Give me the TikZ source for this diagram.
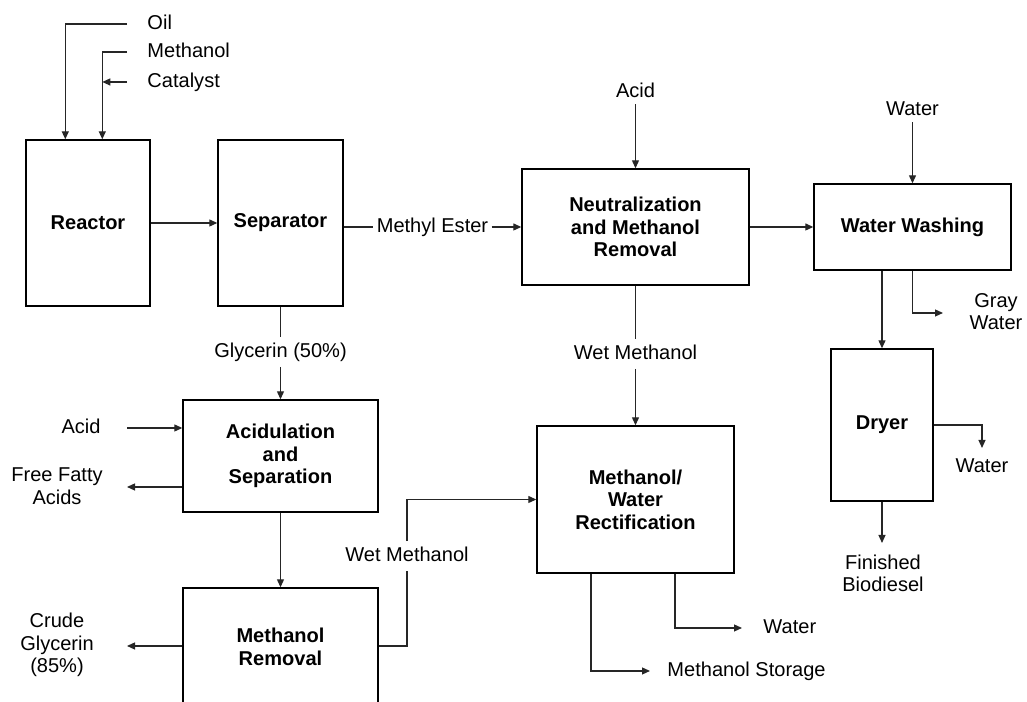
\documentclass[tikz,border=0pt]{standalone}
\usepackage{fontspec}
\setmainfont{Liberation Sans}
\usetikzlibrary{arrows.meta,positioning}
\newcommand{\basefont}{\fontsize{11.4pt}{12.8pt}\selectfont}

\begin{document}
\begin{tikzpicture}[>={Triangle[length=1.6mm,width=1.4mm]},x=1cm,y=1cm,
  font=\basefont,
  unit/.style={draw,line width=0.8pt,align=center,font=\basefont\bfseries,inner sep=2pt},
  flow/.style={->,line width=0.7pt,black!85},
  pipe/.style={line width=0.7pt,black!85},
  lbl/.style={inner sep=1.5pt,text height=0.3cm,text depth=0.08cm},
  inl/.style={lbl,inner xsep=0.06cm,inner ysep=0.1cm},
  txt/.style={align=center}]
\useasboundingbox (0,0) rectangle (20.54,14.04);
\clip (0,0) rectangle (20.54,14.04);
% process units
\node[unit,minimum width=2.48cm,minimum height=3.32cm] (reactor) at (1.76,9.58) {Reactor};
\node[unit,minimum width=2.50cm,minimum height=3.32cm] (sep) at (5.61,9.58) {Separator};
\node[unit,minimum width=4.54cm,minimum height=2.32cm] (neut) at (12.71,9.50) {Neutralization\\and Methanol\\Removal};
\node[unit,minimum width=3.94cm,minimum height=1.72cm] (wash) at (18.25,9.50) {Water Washing};
\node[unit,minimum width=2.04cm,minimum height=3.04cm] (dryer) at (17.64,5.54) {Dryer};
\node[unit,minimum width=3.90cm,minimum height=2.24cm] (acidsep) at (5.61,4.92) {Acidulation\\and\\Separation};
\node[unit,minimum width=3.90cm,minimum height=2.36cm] (mrem) at (5.61,1.10) {Methanol\\Removal};
\node[unit,minimum width=3.94cm,minimum height=2.94cm] (rect) at (12.71,4.05) {Methanol/\\Water\\Rectification};
% feeds to the reactor
\coordinate (oilin) at (2.54,13.56);
\coordinate (methin) at (2.54,13.00);
\coordinate (catin) at (2.54,12.40);
\coordinate (oildrop) at ([xshift=0.80cm]reactor.north west);
\coordinate (methdrop) at ([xshift=1.54cm]reactor.north west);
\node[lbl,anchor=west] (oil) at (2.89,13.56) {Oil};
\node[lbl,anchor=west] (meth) at (2.89,13.00) {Methanol};
\node[lbl,anchor=west] (cat) at (2.89,12.40) {Catalyst};
\draw[flow] (oilin) -| (oildrop);
\draw[flow] (methin) -| (methdrop);
\draw[flow] (catin) -- (catin -| methdrop);
% biodiesel line
\draw[flow] (reactor) -- (sep);
\node[inl] (ester) at (8.65,9.50) {Methyl Ester};
\draw[pipe] (ester.west -| sep.east) -- (ester.west);
\draw[flow] (ester) -- (neut);
\node[lbl] (acidtop) at (12.71,12.20) {Acid};
\draw[flow] (acidtop) -- (neut);
\draw[flow] (neut) -- (wash);
\node[lbl] (watertop) at (18.25,11.84) {Water};
\draw[flow] (watertop) -- (wash);
\draw[flow] (wash.south -| dryer.north) -- (dryer.north);
\coordinate (grayout) at (18.86,7.78);
\draw[flow] (wash.south) |- (grayout);
\node[txt] (gray) at (19.92,7.81) {Gray\\Water};
\coordinate (dwout) at (19.64,5.08);
\draw[flow] (dryer.east) -| (dwout);
\node[lbl] (dwater) at (19.64,4.70) {Water};
\coordinate (bioout) at (17.64,3.18);
\draw[flow] (dryer) -- (bioout);
\node[txt] (bio) at (17.66,2.57) {Finished\\Biodiesel};
% wet methanol to rectification
\node[inl] (wm1) at (12.71,6.96) {Wet Methanol};
\draw[pipe] (neut) -- (wm1);
\draw[flow] (wm1) -- (rect);
% glycerin line
\node[inl] (gly) at (5.61,7.00) {Glycerin (50\%)};
\draw[pipe] (sep) -- (gly);
\draw[flow] (gly) -- (acidsep);
\coordinate (acidin) at (2.54,5.48);
\node[lbl] (acidl) at (1.62,5.48) {Acid};
\draw[flow] (acidin) -- (acidin -| acidsep.west);
\coordinate (ffaout) at (2.54,4.30);
\draw[flow] (ffaout -| acidsep.west) -- (ffaout);
\node[txt] (ffa) at (1.14,4.32) {Free Fatty\\Acids};
\draw[flow] (acidsep) -- (mrem);
\coordinate (crudeout) at (2.54,1.12);
\draw[flow] (crudeout -| mrem.west) -- (crudeout);
\node[txt] (crude) at (1.14,1.14) {Crude\\Glycerin\\(85\%)};
\node[inl] (wm2) at (8.14,2.92) {Wet Methanol};
\draw[pipe] (crudeout -| mrem.east) -| (wm2);
\draw[flow] (wm2) |- (rect);
% rectification products
\coordinate (rwout) at (14.84,1.48);
\draw[flow] ([xshift=0.79cm]rect.south) |- (rwout);
\node[lbl,anchor=west] (rwater) at (15.21,1.48) {Water};
\coordinate (msout) at (13.00,0.62);
\draw[flow] ([xshift=-0.89cm]rect.south) |- (msout);
\node[lbl,anchor=west] (mstore) at (13.29,0.62) {Methanol Storage};
\end{tikzpicture}
\end{document}
